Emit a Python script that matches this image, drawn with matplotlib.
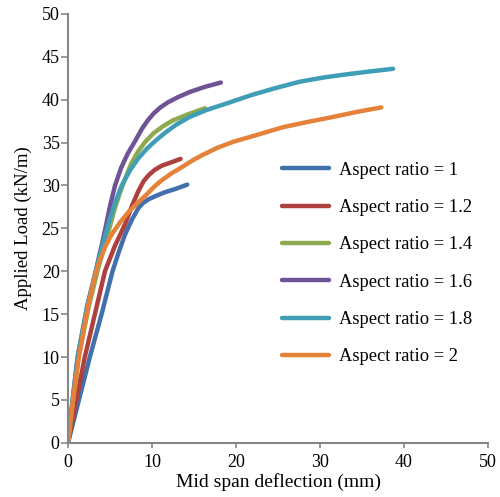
import numpy as np
import matplotlib
matplotlib.use('Agg')
import matplotlib.pyplot as plt

plt.rcParams['font.family'] = ['Liberation Serif', 'DejaVu Serif']

# deflection (mm) and load (kN/m), one pair per aspect ratio
x_ar10 = [0, 1.3, 2.6, 4.0, 5.3, 6.1, 6.8, 7.6, 8.4, 9.0, 9.6, 10.5, 11.5, 12.8, 14.2]
y_ar10 = [0, 5, 10, 15, 20, 22.4, 24.3, 26.0, 27.4, 28.0, 28.4, 28.8, 29.2, 29.6, 30.1]

x_ar12 = [0, 1.0, 2.0, 3.2, 4.4, 5.6, 6.8, 7.6, 8.4, 9.0, 9.6, 10.3, 11.15, 12.3, 13.4]
y_ar12 = [0, 5, 10, 15, 20, 23.0, 25.5, 27.6, 29.4, 30.5, 31.2, 31.8, 32.3, 32.7, 33.1]

x_ar14 = [0, 0.6, 1.25, 2.5, 3.5, 4.5, 5.6, 6.2, 6.8, 7.5, 8.3, 9.2, 10.2, 11.3, 12.5, 14.3, 16.3]
y_ar14 = [0, 5, 10, 16, 20, 23.5, 27.4, 29.2, 30.8, 32.5, 33.9, 35.1, 36.1, 36.9, 37.6, 38.3, 39.0]

x_ar16 = [0, 0.55, 1.15, 2.3, 3.3, 4.3, 5.0, 5.6, 6.3, 7.1, 8.0, 8.8, 9.5, 10.2, 11.0, 11.9,
          13.1, 14.5, 16.3, 18.2]
y_ar16 = [0, 5, 10, 16, 20, 24.3, 27.6, 30.0, 32.0, 33.7, 35.2, 36.6, 37.6, 38.4, 39.1, 39.7,
          40.3, 40.9, 41.5, 42.0]

x_ar18 = [0, 0.55, 1.15, 2.3, 3.0, 3.4, 4.1, 4.8, 5.6, 6.4, 7.4, 8.4, 9.4, 10.4, 11.5, 12.9,
          14.5, 16.5, 19.3, 21.7, 24.5, 27.6, 30.5, 33.5, 36.0, 38.7]
y_ar18 = [0, 5, 10, 16, 18.6, 20.4, 23.0, 25.5, 28.0, 30.0, 31.8, 33.2, 34.3, 35.2, 36.1, 37.1,
          38.0, 38.8, 39.7, 40.5, 41.3, 42.1, 42.6, 43.0, 43.3, 43.6]

x_ar20 = [0, 0.6, 1.3, 2.4, 3.0, 3.6, 4.4, 5.2, 6.2, 7.2, 8.2, 9.2, 10.2, 11.15, 12.3, 13.5,
          14.7, 15.9, 17.8, 19.7, 22.5, 25.6, 28.5, 31.6, 34.5, 37.3]
y_ar20 = [0, 5, 10, 16, 18.6, 20.8, 22.8, 24.3, 25.7, 26.9, 27.9, 28.8, 29.8, 30.6, 31.4, 32.1,
          32.85, 33.5, 34.4, 35.1, 35.9, 36.8, 37.4, 38.0, 38.6, 39.1]

series = [
    (x_ar10, y_ar10, 'Aspect ratio = 1', '#4170AC'),
    (x_ar12, y_ar12, 'Aspect ratio = 1.2', '#AE403D'),
    (x_ar14, y_ar14, 'Aspect ratio = 1.4', '#8DAA4F'),
    (x_ar16, y_ar16, 'Aspect ratio = 1.6', '#6F5495'),
    (x_ar18, y_ar18, 'Aspect ratio = 1.8', '#3F9EB6'),
    (x_ar20, y_ar20, 'Aspect ratio = 2', '#E5823A'),
]

fig = plt.figure(figsize=(5.0, 4.97), dpi=100)
ax = fig.add_axes([0.136, 0.109, 0.84, 0.863])

for xs, ys, label, col in series:
    ax.plot(xs, ys, color=col, lw=3.2, label=label,
            solid_capstyle='round', solid_joinstyle='round')

ax.set_xlim(0, 50)
ax.set_ylim(0, 50)
ax.set_xticks(np.arange(0, 51, 10))
ax.set_yticks(np.arange(0, 51, 5))

grey = '#868686'
for side in ['top', 'right']:
    ax.spines[side].set_visible(False)
for side in ['left', 'bottom']:
    ax.spines[side].set_color(grey)
    ax.spines[side].set_linewidth(1.5)
ax.tick_params(axis='both', direction='out', width=1.2, color=grey,
               labelsize=13, labelcolor='black')
ax.tick_params(axis='x', length=3.3, pad=5)
ax.tick_params(axis='y', length=5, pad=1)

ax.set_xlabel('Mid span deflection (mm)', fontsize=14, labelpad=1)
ax.set_ylabel('Applied Load (kN/m)', fontsize=13.5, labelpad=7)

ax.legend(loc='center left', bbox_to_anchor=(0.471, 0.418), frameon=False,
          fontsize=13.3, handlelength=2.5, handletextpad=0.55, labelspacing=1.1)

fig.savefig('out.png', dpi=100)
